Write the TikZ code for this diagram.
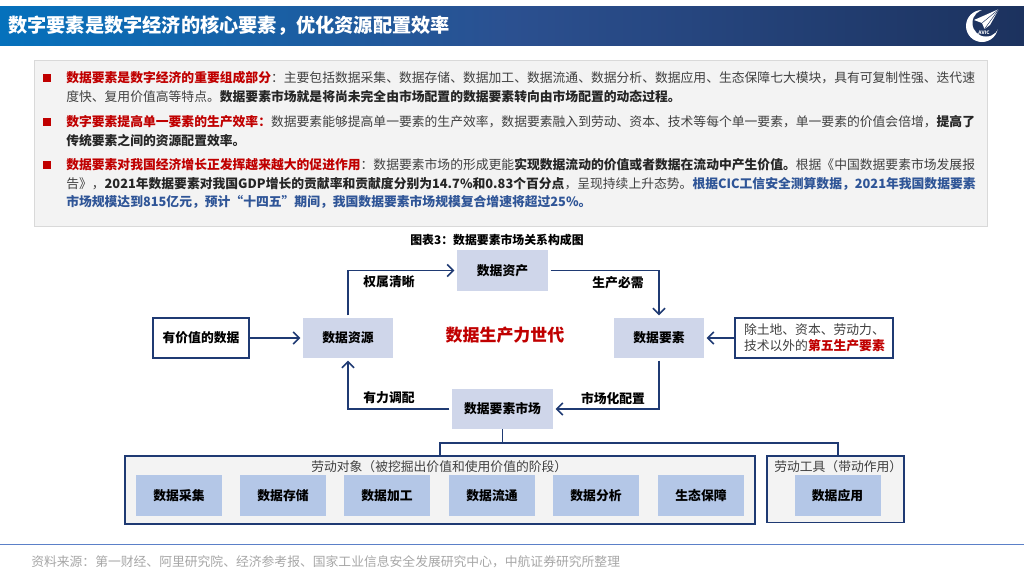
\documentclass[tikz,border=0pt]{standalone}
\usepackage{fontspec}
\setmainfont{Noto Sans CJK SC}
\usetikzlibrary{arrows.meta,positioning}
\definecolor{navy}{HTML}{1F3A73}
\definecolor{redc}{HTML}{C00000}
\definecolor{bluec}{HTML}{2F5597}
\definecolor{bodyc}{HTML}{404040}
\definecolor{darkc}{HTML}{262626}
\definecolor{lightbox}{HTML}{CFD6EA}
\definecolor{midbox}{HTML}{B4C7E7}
\definecolor{panel}{HTML}{F3F3F3}
\definecolor{barleft}{HTML}{0571BC}
\definecolor{barmid}{HTML}{2B5090}
\definecolor{barright}{HTML}{1C325E}
\definecolor{logobg}{HTML}{1E3460}
\definecolor{panelline}{HTML}{D9D9D9}
\definecolor{footline}{HTML}{5B80C8}
\definecolor{footc}{HTML}{A6A6A6}
\newcommand{\R}[1]{{\bfseries\color{redc}#1}}
\newcommand{\B}[1]{{\bfseries\color{bluec}#1}}
\newcommand{\K}[1]{{\bfseries\color{darkc}#1}}
\tikzset{
  x=0.75pt,y=-0.75pt,
  txt/.style={anchor=base west,inner sep=0pt,font=\fontsize{9.6pt}{12pt}\selectfont,text=bodyc},
  lab/.style={inner sep=0pt,font=\fontsize{9.6pt}{12pt}\selectfont\bfseries,text=black},
  sized/.style n args={2}{minimum width=#1*0.75pt,minimum height=#2*0.75pt,inner sep=0pt},
  softbox/.style={fill=lightbox,font=\fontsize{9.6pt}{12pt}\selectfont\bfseries,text=black},
  itembox/.style={fill=midbox,sized={86}{41},font=\fontsize{9.6pt}{12pt}\selectfont\bfseries,text=black},
  framebox/.style={draw=navy,line width=1.3pt},
  conn/.style={draw=navy,line width=1.1pt,-{Straight Barb[length=4.5pt,width=9pt,line width=1.2pt]},shorten >=1.8pt,shorten <=1.8pt},
  connfrom/.style={conn,shorten <=0pt},
  tree/.style={draw=navy,line width=1.1pt},
  bullet/.style={fill=redc,minimum size=6pt,inner sep=0pt},
}
\begin{document}
\begin{tikzpicture}
\useasboundingbox (0,0) rectangle (1024,576);
% title bar
\shade[shading=axis,left color=barleft,right color=barmid] (0,6) rectangle (512,45);
\shade[shading=axis,left color=barmid,right color=barright] (512,6) rectangle (1024,45);
\node[anchor=west,inner sep=0pt,text=white,font=\fontsize{14.4pt}{16pt}\selectfont\bfseries] (title) at (8,26) {数字要素是数字经济的核心要素，优化资源配置效率};
% logo
\fill[white] (982,26) circle (16);
\fill[logobg] (986,23) circle (13.5);
\fill[white] (999,9) -- (974,20) -- (982,23) -- (984.5,29) -- (990,25) -- cycle;
\draw[logobg,line width=0.35pt] (999,9) -- (982,23);
\draw[logobg,line width=0.35pt] (999,9) -- (984.5,29);
\node[inner sep=0pt,text=white,font=\fontsize{3.6pt}{4pt}\selectfont\bfseries] (avic) at (984,32.5) {AVIC};
% top panel
\node[draw=panelline,line width=0.8pt,fill=panel,sized={953}{166},anchor=north west] (panelbox) at (34,60) {};
\node[bullet] (b1) at (47,78) {};
\node[bullet] (b2) at (47,122) {};
\node[bullet] (b3) at (47,165) {};
\node[txt] (l1) at (66,82.5) {\R{数据要素是数字经济的重要组成部分}：主要包括数据采集、数据存储、数据加工、数据流通、数据分析、数据应用、生态保障七大模块，具有可复制性强、迭代速};
\node[txt] (l2) at (66,101.5) {度快、复用价值高等特点。\K{数据要素市场就是将尚未完全由市场配置的数据要素转向由市场配置的动态过程。}};
\node[txt] (l3) at (66,126.5) {\R{数字要素提高单一要素的生产效率：}数据要素能够提高单一要素的生产效率，数据要素融入到劳动、资本、技术等每个单一要素，单一要素的价值会倍增，\K{提高了}};
\node[txt] (l4) at (66,145.5) {\K{传统要素之间的资源配置效率。}};
\node[txt] (l5) at (66,169.5) {\R{数据要素对我国经济增长正发挥越来越大的促进作用}：数据要素市场的形成更能\K{实现数据流动的价值或者数据在流动中产生价值。}根据《中国数据要素市场发展报};
\node[txt] (l6) at (66,188) {告》，\K{2021年数据要素对我国GDP增长的贡献率和贡献度分别为14.7\%和0.83个百分点}，呈现持续上升态势。\B{根据CIC工信安全测算数据，2021年我国数据要素}};
\node[txt] (l7) at (66,206.5) {\B{市场规模达到815亿元，预计“十四五”期间，我国数据要素市场规模复合增速将超过25\%。}};
% caption
\node[inner sep=0pt,text=black,font=\fontsize{8.9pt}{11pt}\selectfont\bfseries] (cap) at (497,240) {图表3：数据要素市场关系构成图};
% cycle nodes
\node[framebox,fill=white,sized={96}{40},font=\fontsize{9.6pt}{12pt}\selectfont\bfseries] (valued) at (201,338) {有价值的数据};
\node[softbox,sized={90}{40}] (res) at (348,338) {数据资源};
\node[softbox,sized={91}{41}] (asset) at (502.5,270.5) {数据资产};
\node[softbox,sized={90}{40}] (elem) at (659,338) {数据要素};
\node[softbox,sized={101}{40}] (mkt) at (502.5,409) {数据要素市场};
\node[framebox,fill=white,sized={158}{40},font=\fontsize{9.6pt}{12pt}\selectfont,text=bodyc,align=left,text width=140*0.75pt] (fifth) at (814,338) {除土地、资本、劳动力、\\技术以外的\R{第五生产要素}};
\node[inner sep=0pt,text=redc,font=\fontsize{12.7pt}{15pt}\selectfont\bfseries] (center) at (505,335) {数据生产力世代};
% connectors
\draw[connfrom] (valued.east) -- (res.west);
\draw[conn] (res.north) |- (asset.west);
\draw[conn] (asset.east) -| (elem.north);
\draw[conn] (elem.south) |- (mkt.east);
\draw[conn] (mkt.west) -| (res.south);
\draw[connfrom] (fifth.west) -- (elem.east);
% labels
\node[lab] (lq) at (389,282) {权属清晰};
\node[lab] (ls) at (618,283) {生产必需};
\node[lab] (ly) at (389,398) {有力调配};
\node[lab] (lc) at (613,399) {市场化配置};
% lower frames
\node[framebox,fill=panel,sized={630}{68}] (big) at (440,490) {};
\node[framebox,fill=panel,sized={137}{66.5}] (small) at (835.5,489.3) {};
\coordinate (drop) at (838,456);
\coordinate (tj) at (502.5,443);
\draw[tree] (mkt.south) -- (tj);
\draw[tree] (big.north) |- (tj) -| (drop);
\node[inner sep=0pt,anchor=west,text=bodyc,font=\fontsize{9.6pt}{12pt}\selectfont] (bigt) at (311,466.5) {劳动对象（被挖掘出价值和使用价值的阶段）};
\node[inner sep=0pt,anchor=west,text=bodyc,font=\fontsize{9.6pt}{12pt}\selectfont] (smallt) at (774,466.5) {劳动工具（带动作用）};
\node[itembox] (i1) at (179,495.5) {数据采集};
\node[itembox] (i2) at (283,495.5) {数据存储};
\node[itembox] (i3) at (387,495.5) {数据加工};
\node[itembox] (i4) at (492,495.5) {数据流通};
\node[itembox] (i5) at (596,495.5) {数据分析};
\node[itembox] (i6) at (701,495.5) {生态保障};
\node[itembox] (i7) at (837.5,495.5) {数据应用};
% footer
\draw[footline,line width=0.8pt] (0,544.5) -- (1024,544.5);
\node[inner sep=0pt,anchor=west,text=footc,font=\fontsize{9.6pt}{12pt}\selectfont] (src) at (31,562) {资料来源：第一财经、阿里研究院、经济参考报、国家工业信息安全发展研究中心，中航证券研究所整理};
\end{tikzpicture}
\end{document}
